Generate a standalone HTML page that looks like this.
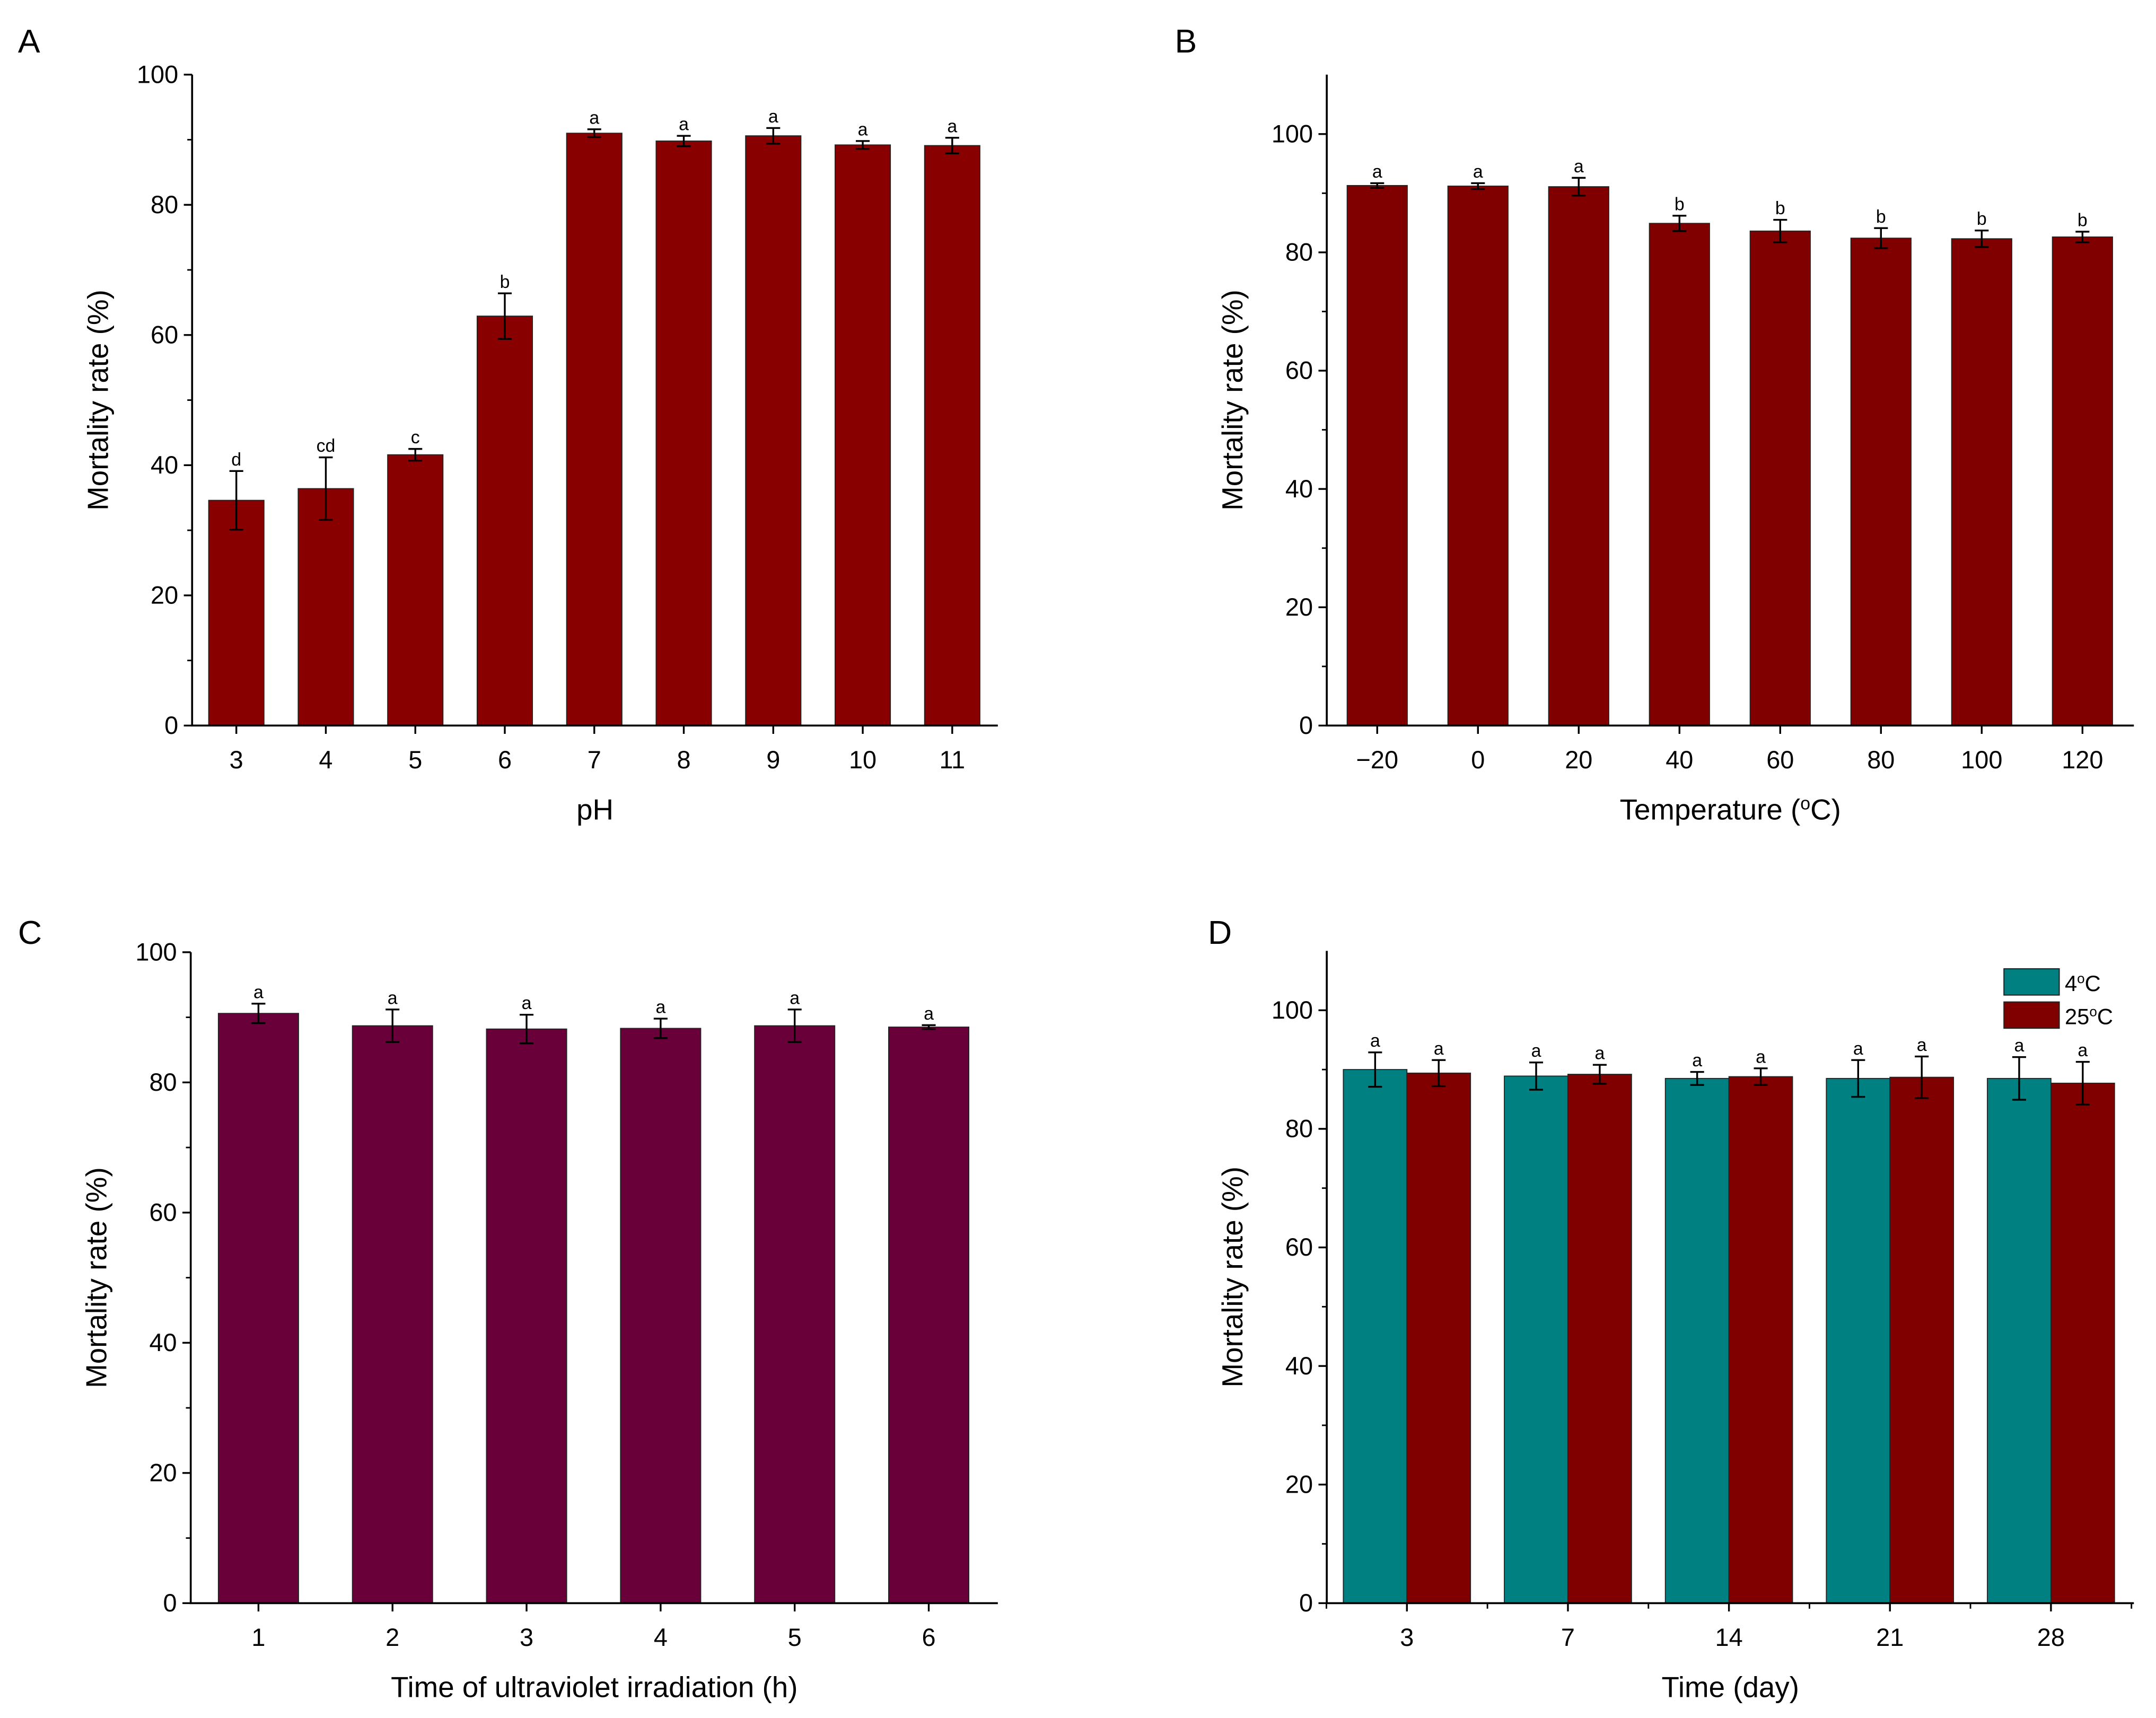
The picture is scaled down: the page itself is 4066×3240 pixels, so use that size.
<!DOCTYPE html>
<html><head><meta charset="utf-8"><style>
html,body{margin:0;padding:0;background:#fff}
svg{display:block}
text{font-family:"Liberation Sans",sans-serif;fill:#000}
</style></head><body>
<svg id="fig" xmlns="http://www.w3.org/2000/svg" width="4066" height="3240" viewBox="0 0 1560 1243.1"></svg>
<script>
// Panel A data
const catsA = ["3","4","5","6","7","8","9","10","11"];
const valsA = [34.6,36.4,41.6,62.9,91.0,89.8,90.6,89.2,89.1];
const errA = [4.5,4.8,0.9,3.5,0.6,0.8,1.2,0.6,1.2];
const letA = ["d","cd","c","b","a","a","a","a","a"];
const ticksA = [0,20,40,60,80,100];
// Panel B data
const catsB = ["\u221220","0","20","40","60","80","100","120"];
const valsB = [91.3,91.2,91.1,84.9,83.6,82.4,82.3,82.6];
const errB = [0.4,0.5,1.5,1.3,1.9,1.7,1.4,0.9];
const letB = ["a","a","a","b","b","b","b","b"];
const ticksB = [0,20,40,60,80,100];
// Panel C data
const catsC = ["1","2","3","4","5","6"];
const valsC = [90.6,88.7,88.2,88.3,88.7,88.5];
const errC = [1.5,2.5,2.2,1.5,2.5,0.3];
const letC = ["a","a","a","a","a","a"];
const ticksC = [0,20,40,60,80,100];
// Panel D data
const catsD = ["3","7","14","21","28"];
const valsD4 = [90.0,88.9,88.5,88.5,88.5];
const errD4 = [2.9,2.3,1.1,3.1,3.6];
const valsD25 = [89.4,89.2,88.8,88.7,87.7];
const errD25 = [2.2,1.6,1.4,3.5,3.6];
const letD = ["a","a","a","a","a"];
const ticksD = [0,20,40,60,80,100];

const NS="http://www.w3.org/2000/svg";
const svg=document.getElementById('fig');
function mk(tag,attrs,parent,txt){const e=document.createElementNS(NS,tag);for(const k in attrs)e.setAttribute(k,attrs[k]);if(txt!==undefined)e.textContent=txt;(parent||svg).appendChild(e);return e;}

function panel(o){
  const g=mk('g',{});
  
  
  const y=v=>o.y0-(v/o.ymax)*(o.y0-o.ytop);
  const x=i=>o.x0+(i)*o.sp;
  o.series.forEach((s,si)=>{
    s.vals.forEach((v,i)=>{
      const cx=x(i)+(o.series.length>1?(si-0.5)*o.bw:0);
      const r=mk('rect',{x:cx-o.bw/2,y:y(v),width:o.bw,height:o.y0-y(v),fill:s.color,stroke:'#222','stroke-width':0.7},g);
      
      
      const e=s.err[i];
      const eb=mk('path',{d:`M${cx},${y(v+e)}V${y(v-e)}M${cx-5},${y(v+e)}h10M${cx-5},${y(v-e)}h10`,stroke:'#000','stroke-width':1.3,fill:'none'},g);
      
      
      const t=mk('text',{x:cx,y:y(v+e)-4,'font-size':13,'text-anchor':'middle'},g,o.lets[i]);
      
      
    });
  });
  const ax=mk('path',{d:`M${o.xa},${o.yaxTop}V${o.y0}H${o.xend}`,stroke:'#000','stroke-width':1.4,fill:'none'},g);
  
  
  o.ticks.forEach(t=>{
    mk('line',{x1:o.xa-6,x2:o.xa,y1:y(t),y2:y(t),stroke:'#000','stroke-width':1.3},g);
    const tl=mk('text',{x:o.xa-10,y:y(t)+6,'font-size':18,'text-anchor':'end'},g,String(t));
    
    
    if(t+10<=o.ymax) mk('line',{x1:o.xa-3.5,x2:o.xa,y1:y(t+10),y2:y(t+10),stroke:'#000','stroke-width':1.1},g);
  });
  o.cats.forEach((c,i)=>{
    mk('line',{x1:x(i),x2:x(i),y1:o.y0,y2:o.y0+6,stroke:'#000','stroke-width':1.3},g);
    const tl=mk('text',{x:x(i),y:o.y0+31,'font-size':18,'text-anchor':'middle'},g,c);
    
    
    if(o.minorX){mk('line',{x1:x(i)-o.sp/2,x2:x(i)-o.sp/2,y1:o.y0,y2:o.y0+4,stroke:'#000','stroke-width':1.1},g);
      if(i==o.cats.length-1)mk('line',{x1:x(i)+o.sp/2,x2:x(i)+o.sp/2,y1:o.y0,y2:o.y0+4,stroke:'#000','stroke-width':1.1},g);}
  });
  const yt=mk('text',{x:0,y:0,'font-size':21,'text-anchor':'middle',transform:`translate(${o.xa-61},${(o.y0+o.yaxTop)/2}) rotate(-90)`},g,'Mortality rate (%)');
  
  
  const xt=mk('text',{x:(o.xa+o.xend)/2,y:o.y0+68,'font-size':21,'text-anchor':'middle'},g);
  xt.innerHTML=o.xtitle;
  
  
  const pl=mk('text',{x:o.lx,y:o.ly,'font-size':24},g,o.label);
  
  
  return g;
}

panel({id:'panel-a',label:'A',lx:13,ly:38,xa:139,xend:722,y0:525,ytop:54,yaxTop:54,ymax:100,x0:171,sp:64.75,bw:40,
  cats:catsA,lets:letA,ticks:ticksA,series:[{key:'ph',vals:valsA,err:errA,color:'#880000'}],xtitle:'pH'});
panel({id:'panel-b',label:'B',lx:850,ly:38,xa:960,xend:1544,y0:525,ytop:97,yaxTop:54,ymax:100,x0:996.5,sp:72.9,bw:43.5,
  cats:catsB,lets:letB,ticks:ticksB,series:[{key:'temp',vals:valsB,err:errB,color:'#800000'}],xtitle:'Temperature (<tspan baseline-shift="super" font-size="13">o</tspan>C)'});
panel({id:'panel-c',label:'C',lx:13,ly:683,xa:138,xend:722,y0:1160,ytop:689,yaxTop:689,ymax:100,x0:187,sp:97,bw:58,
  cats:catsC,lets:letC,ticks:ticksC,series:[{key:'uv',vals:valsC,err:errC,color:'#6a003a'}],xtitle:'Time of ultraviolet irradiation (h)'});
panel({id:'panel-d',label:'D',lx:874,ly:683,xa:960,xend:1544,y0:1160,ytop:731,yaxTop:688,ymax:100,x0:1018,sp:116.5,bw:46,minorX:true,
  cats:catsD,lets:letD,ticks:ticksD,series:[{key:'4c',vals:valsD4,err:errD4,color:'#008080'},{key:'25c',vals:valsD25,err:errD25,color:'#800000'}],xtitle:'Time (day)'});

const lg=mk('g',{});


mk('rect',{x:1450,y:701,width:40,height:19,fill:'#008080',stroke:'#222','stroke-width':0.8},lg);
mk('rect',{x:1450,y:725,width:40,height:19,fill:'#800000',stroke:'#222','stroke-width':0.8},lg);
const l1=mk('text',{x:1494,y:717,'font-size':16},lg);l1.innerHTML='4<tspan baseline-shift="super" font-size="10">o</tspan>C';


const l2=mk('text',{x:1494,y:741,'font-size':16},lg);l2.innerHTML='25<tspan baseline-shift="super" font-size="10">o</tspan>C';


</script>
</body></html>
